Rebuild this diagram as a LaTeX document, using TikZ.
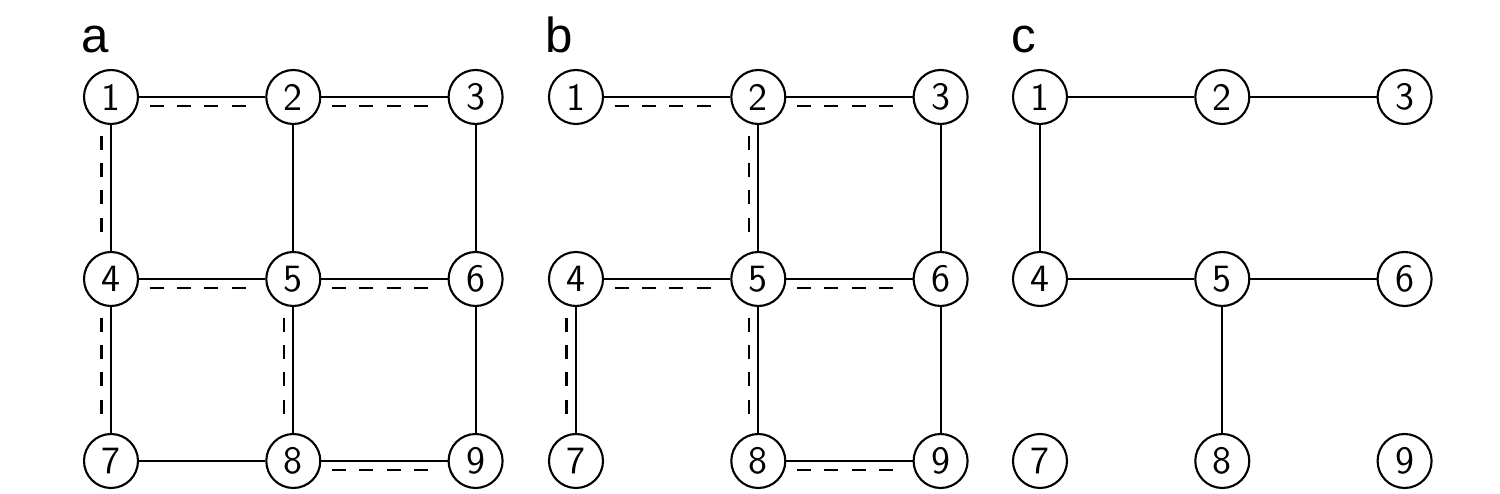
\documentclass[tikz,border=0pt]{standalone}
\usepackage{fontspec}
\usepackage{tikz}
\newfontfamily\panelfont{Liberation Sans}

\begin{document}
\begin{tikzpicture}[
    vertex/.style={circle,draw,line width=0.6pt,minimum size=0.54cm,inner sep=0pt,
                   font=\sffamily\fontsize{11}{13}\selectfont},
    edge/.style={line width=0.6pt},
    hdash/.style={line width=0.6pt,dash pattern=on 4pt off 3.8pt,
                  shorten <=3pt,shorten >=3pt,transform canvas={yshift=-0.09cm}},
    vdash/.style={line width=0.6pt,dash pattern=on 4pt off 3.8pt,
                  shorten <=3pt,shorten >=3pt,transform canvas={xshift=-0.095cm}},
    panel/.style={anchor=base west,inner sep=0pt,font=\panelfont\fontsize{14}{16}\selectfont}]
    \useasboundingbox (0,0) rectangle (15,4.94);
    %three 3x3 grids of vertices
    \foreach \p/\ox in {a/1.11,b/5.76,c/10.40} {
        \foreach \n/\c/\r in {1/0/0,2/1/0,3/2/0,4/0/1,5/1/1,6/2/1,7/0/2,8/1/2,9/2/2}
            \node[vertex] (\p\n) at (\ox+\c*1.823,3.97-\r*1.82) {\n};
    }
    \node[panel] (la) at (0.81,4.41) {a};
    \node[panel] (lb) at (5.45,4.41) {b};
    \node[panel] (lc) at (10.11,4.41) {c};
    %panel a: full grid
    \foreach \s/\t in {1/2,2/3,4/5,5/6,7/8,8/9,1/4,2/5,3/6,4/7,5/8,6/9}
        \draw[edge] (a\s) -- (a\t);
    \foreach \s/\t in {1/2,2/3,4/5,5/6,8/9}
        \draw[hdash] (a\s) -- (a\t);
    \foreach \s/\t in {1/4,4/7,5/8}
        \draw[vdash] (a\s) -- (a\t);
    %panel b
    \foreach \s/\t in {1/2,2/3,4/5,5/6,8/9,2/5,3/6,4/7,5/8,6/9}
        \draw[edge] (b\s) -- (b\t);
    \foreach \s/\t in {1/2,2/3,4/5,5/6,8/9}
        \draw[hdash] (b\s) -- (b\t);
    \foreach \s/\t in {2/5,4/7,5/8}
        \draw[vdash] (b\s) -- (b\t);
    %panel c: spanning tree
    \foreach \s/\t in {1/2,2/3,1/4,4/5,5/6,5/8}
        \draw[edge] (c\s) -- (c\t);
\end{tikzpicture}
\end{document}
